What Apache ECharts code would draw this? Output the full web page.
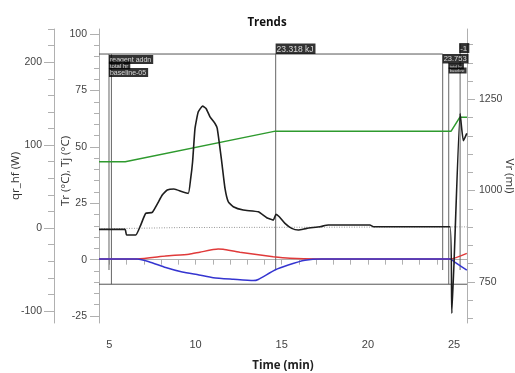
<!DOCTYPE html>
<html><head><meta charset="utf-8">
<script src="https://cdn.jsdelivr.net/npm/echarts@6/dist/echarts.min.js"></script>
<style>html,body{margin:0;padding:0;background:#fff}#c{width:515px;height:373px}</style>
</head><body><div id="c"></div><script>
// ---- data ----
const qrTime = [4.40, 5.91, 6.00, 6.53, 6.82, 7.11, 7.49, 8.07, 8.36, 8.75, 9.23, 9.58, 9.72, 9.83, 9.97, 10.16, 10.41, 10.61, 10.84, 11.13, 11.26, 11.52, 11.71, 11.90, 12.19, 12.77, 13.64, 14.13, 14.51, 14.67, 14.86, 15.19, 15.58, 15.96, 16.45, 17.22, 17.70, 20.12, 20.32, 24.77, 24.87, 25.35, 25.54, 25.74];
const qrValues = [-1.6, -1.6, -8.4, -8.4, 3.6, 17.7, 18.9, 39.8, 45.8, 47.0, 43.7, 41.8, 59.9, 79.9, 120.1, 140.1, 147.0, 144.2, 134.1, 126.1, 120.1, 79.9, 47.8, 31.7, 25.7, 21.7, 19.6, 12.4, 9.6, 16.5, 13.6, 5.7, -0.4, -2.4, -0.4, 1.6, 3.6, 3.6, 1.6, 1.6, -102.8, 138.2, 105.2, 114.1];
const baseTime = [4.40, 9.20, 25.75];
const baseValues = [-1.0, 0.6, 1.4];
const vrTime = [4.40, 5.92, 14.63, 24.83, 25.33, 25.75];
const vrValues = [1079, 1079, 1163, 1163, 1201, 1201];
const trTime = [4.40, 6.62, 8.27, 9.62, 10.25, 11.31, 11.60, 12.57, 14.51, 15.48, 17.10, 24.77, 25.74];
const trValues = [0.3, 0.3, 1.6, 2.4, 3.3, 4.7, 4.6, 3.3, 1.3, 0.6, 0.3, 0.3, 2.8];
const tjTime = [4.40, 6.62, 7.30, 8.27, 9.23, 10.20, 11.03, 12.19, 13.35, 13.64, 14.61, 15.38, 16.35, 17.32, 24.77, 25.06, 25.74];
const tjValues = [0.3, 0.3, -0.9, -3.5, -5.5, -6.8, -8.0, -8.7, -9.3, -8.8, -4.6, -2.4, -0.3, 0.3, 0.3, -1.2, -4.6];
// annotation markers (time, top, bottom on T axis)
const markerTimes = [4.98, 5.12, 14.65, 24.34, 24.69, 25.35];
const markerTops = [91.2, 91.2, 91.2, 91.2, 87.5, 95.7];
const markerBottoms = [-4.6, -10.9, -4.6, -4.6, -10.9, -4.6];
const frameStart = [4.40, 4.40];
const frameEnd = [24.34, 25.75];
const frameLevel = [91.2, -10.9];
const annoText = ['reagent addn', 'total hr', 'baseline-05', '23.318 kJ', '23.753', '-1', 'total hr', 'baseline'];
const annoTime = [4.98, 4.98, 4.98, 14.65, 24.34, 25.30, 24.69, 24.69];
const annoLevel = [90.8, 87.9, 85.0, 91.2, 91.2, 91.6, 87.2, 85.2];
const annoAnchor = ['top', 'top', 'top', 'bottom', 'top', 'bottom', 'top', 'top'];
const annoSize = [7, 6, 7, 8.5, 7.5, 8, 4, 4];
// ticks
const xLabels = [5, 10, 15, 20, 25];
const xTicks = [5,6,7,8,9,10,11,12,13,14,15,16,17,18,19,20,21,22,23,24,25];
const tLabels = [-25, 0, 25, 50, 75, 100];
const tMinor = [-25,-20,-15,-10,-5,0,5,10,15,20,25,30,35,40,45,50,55,60,65,70,75,80,85,90,95,100];
const qrLabels = [-100, 0, 100, 200];
const qrMinor = [-100,-80,-60,-40,-20,0,20,40,60,80,100,120,140,160,180,200,220,240];
const vrLabels = [750, 1000, 1250];
const vrMinor = [650,700,750,800,850,900,950,1000,1050,1100,1150,1200,1250,1300,1350,1400];
const axisNames = ['qr_hf (W)', 'Tr (°C), Tj (°C)', 'Vr (ml)'];

const X_MIN = 4.40, X_MAX = 25.75;
const T_MIN = -28.1, T_MAX = 102.3;
const QR_MIN = -114.5, QR_MAX = 240;
const VR_MIN = 637, VR_MAX = 1443;

function pairs(xs, ys) { return xs.map((x, i) => [x, ys[i]]); }
const LBL = {fontFamily: 'Liberation Sans', fontSize: 10.5, color: '#444', formatter: v => String(v)};
const NAME = {fontFamily: 'Open Sans', fontSize: 11.5, fill: '#333', align: 'center', verticalAlign: 'middle'};

function yAxisMajor(pos, offset, min, max, labels, tickLen) {
  return {
    type: 'value', position: pos, offset: offset, min: min, max: max,
    axisLine: {show: true, lineStyle: {color: '#b0b0b0', width: 1}},
    axisTick: {show: true, customValues: labels, length: tickLen, lineStyle: {color: '#b0b0b0'}},
    axisLabel: Object.assign({customValues: labels, margin: 12}, LBL),
    splitLine: {show: false}
  };
}
function yAxisMinor(pos, offset, min, max, ticks, tickLen) {
  return {
    type: 'value', position: pos, offset: offset, min: min, max: max,
    axisLine: {show: false},
    axisTick: {show: true, customValues: ticks, length: tickLen, lineStyle: {color: '#b0b0b0'}},
    axisLabel: {show: false},
    splitLine: {show: false}
  };
}

const series = [];
markerTimes.forEach((t, i) => {
  series.push({type: 'line', xAxisIndex: 0, yAxisIndex: 0, data: [[t, markerTops[i]], [t, markerBottoms[i]]],
    showSymbol: false, silent: true, lineStyle: {color: '#666', width: 1}, z: 1});
});
frameLevel.forEach((lv, i) => {
  series.push({type: 'line', yAxisIndex: 0, data: [[frameStart[i], lv], [frameEnd[i], lv]],
    showSymbol: false, silent: true, lineStyle: {color: '#555', width: 1}, z: 1});
});
series.push({type: 'line', name: 'baseline', yAxisIndex: 1, data: pairs(baseTime, baseValues), showSymbol: false,
  lineStyle: {color: '#999', width: 1, type: [1, 1.5]}, z: 2});
series.push({type: 'line', name: 'Vr', yAxisIndex: 2, data: pairs(vrTime, vrValues), showSymbol: false,
  lineStyle: {color: '#2e9a2e', width: 1.5}, z: 3});
series.push({type: 'line', name: 'Tr', yAxisIndex: 0, data: pairs(trTime, trValues), showSymbol: false, smooth: 0.2,
  lineStyle: {color: '#e03a3a', width: 1.5}, z: 3});
series.push({type: 'line', name: 'Tj', yAxisIndex: 0, data: pairs(tjTime, tjValues), showSymbol: false, smooth: 0.2,
  lineStyle: {color: '#3535d0', width: 1.5}, z: 4});
series.push({type: 'line', name: 'qr_hf', yAxisIndex: 1, data: pairs(qrTime, qrValues), showSymbol: false, smooth: 0.15,
  lineStyle: {color: '#1e1e1e', width: 1.6}, z: 5});
series.push({type: 'scatter', yAxisIndex: 0, symbolSize: 0.1, itemStyle: {color: 'rgba(0,0,0,0)'}, silent: true, z: 10,
  data: annoText.map((s, i) => ({
    value: [annoTime[i], annoLevel[i]],
    label: {show: true, formatter: s, position: [0, 0], align: 'left', verticalAlign: annoAnchor[i],
      color: '#fff', backgroundColor: '#000', padding: [1, 2, 0, 1], fontSize: annoSize[i],
      fontFamily: 'Liberation Sans', lineHeight: annoSize[i] + 1}
  }))
});

const option = {
  animation: false,
  backgroundColor: '#fff',
  title: {text: 'Trends', left: 262, top: 12, textAlign: 'center',
    textStyle: {fontFamily: 'Open Sans', fontWeight: 'bold', fontSize: 11.5, color: '#111'}},
  grid: {left: 99, right: 48, top: 29, bottom: 50, containLabel: false, outerBoundsMode: 'none'},
  xAxis: [{
    type: 'value', min: X_MIN, max: X_MAX,
    name: 'Time (min)', nameLocation: 'middle', nameGap: 37,
    nameTextStyle: {fontFamily: 'Open Sans', fontWeight: 'bold', fontSize: 11.5, color: '#222'},
    axisLine: {show: true, lineStyle: {color: '#b0b0b0'}},
    axisTick: {show: true, customValues: xTicks, length: 5, lineStyle: {color: '#b0b0b0'}},
    axisLabel: Object.assign({customValues: xLabels, margin: 16}, LBL, {fontSize: 11}),
    splitLine: {show: false}
  }],
  yAxis: [
    yAxisMajor('left', 0, T_MIN, T_MAX, tLabels, 9),
    yAxisMajor('left', 45, QR_MIN, QR_MAX, qrLabels, 10),
    yAxisMajor('right', 0, VR_MIN, VR_MAX, vrLabels, 8),
    yAxisMinor('left', 0, T_MIN, T_MAX, tMinor, 5),
    yAxisMinor('left', 45, QR_MIN, QR_MAX, qrMinor, 6),
    yAxisMinor('right', 0, VR_MIN, VR_MAX, vrMinor, 6)
  ],
  graphic: [
    {type: 'text', x: 16, y: 176, rotation: Math.PI / 2, silent: true, style: Object.assign({text: axisNames[0]}, NAME)},
    {type: 'text', x: 66, y: 171, rotation: Math.PI / 2, silent: true, style: Object.assign({text: axisNames[1]}, NAME)},
    {type: 'text', x: 509, y: 176, rotation: -Math.PI / 2, silent: true, style: Object.assign({text: axisNames[2]}, NAME)}
  ],
  series: series
};
const chart = echarts.init(document.getElementById('c'), null, {renderer: 'canvas'});
chart.setOption(option);
</script></body></html>
